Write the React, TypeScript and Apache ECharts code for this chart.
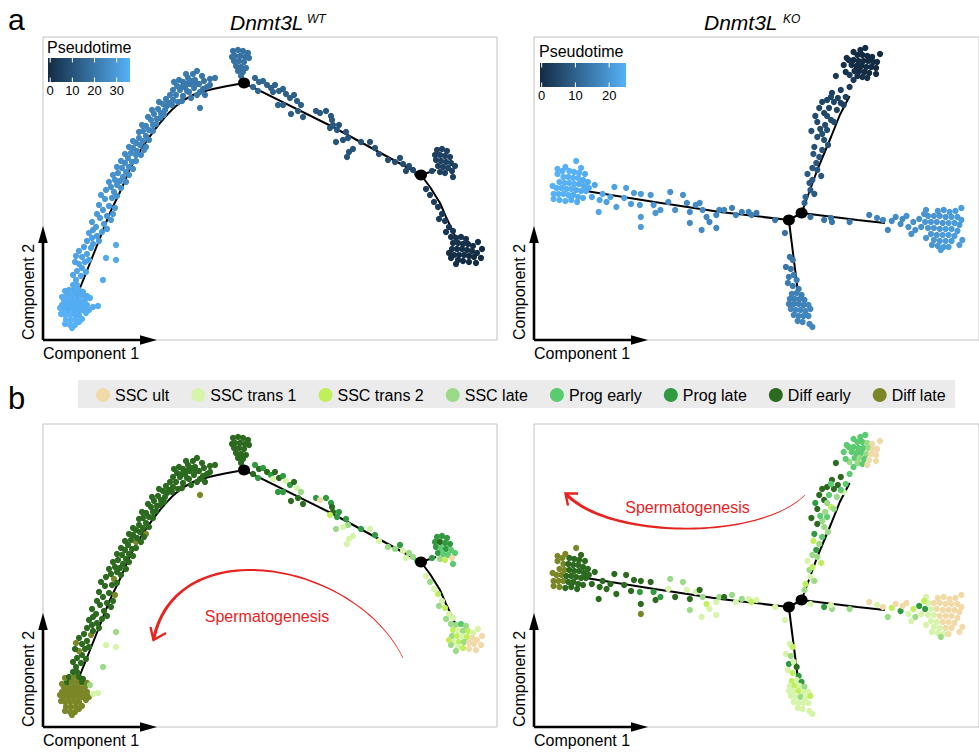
import React, { useEffect, useRef } from "react";
import * as echarts from "echarts";

// ---------- legend / colour tables ----------
const CELL_TYPES = ["SSC ult", "SSC trans 1", "SSC trans 2", "SSC late", "Prog early", "Prog late", "Diff early", "Diff late"];
const TYPE_COLORS = ["#F2DAA8", "#D6F5AA", "#C0EF5C", "#9BDA86", "#5ACB6E", "#2F9A40", "#2C6A1F", "#7B8727"];
const PSEUDO_LOW = "#132B43";
const PSEUDO_HIGH = "#56B1F7";
const WT_PSEUDO_MAX = 36;
const KO_PSEUDO_MAX = 25;
const WT_TICKS = [0, 10, 20, 30];
const KO_TICKS = [0, 10, 20];

// ---------- cells: [component 1, component 2, pseudotime, cell-type index] ----------
type Cell = [number, number, number, number];

const wtRootCluster: Cell[] = [
  [2.9, 1.2, 36, 7], [2.7, 1.5, 36, 7], [3.2, 1.5, 36, 7], [2.2, 1.6, 36, 7], [3.6, 1.8, 36, 7],
  [2.3, 2.0, 36, 7], [2.8, 2.0, 36, 7], [3.3, 2.0, 36, 7], [3.9, 2.1, 36, 7],
  [2.2, 2.5, 36, 7], [2.7, 2.5, 36, 7], [3.2, 2.5, 35, 7], [3.6, 2.5, 35, 7], [1.8, 2.6, 36, 7], [4.3, 2.7, 35, 7],
  [2.0, 3.0, 36, 7], [2.5, 3.0, 35, 7], [3.0, 3.0, 35, 7], [3.5, 3.0, 35, 7], [3.9, 3.0, 35, 7], [4.6, 3.0, 35, 7],
  [1.7, 3.2, 36, 7], [2.2, 3.3, 35, 7], [2.7, 3.3, 35, 7], [3.2, 3.3, 35, 7], [3.7, 3.3, 35, 7], [4.2, 3.3, 35, 7],
  [1.9, 3.5, 35, 7], [2.4, 3.5, 35, 7], [2.9, 3.5, 35, 7], [3.4, 3.5, 35, 7], [3.9, 3.5, 35, 7], [4.4, 3.5, 35, 7],
  [2.2, 3.8, 35, 7], [2.7, 3.8, 35, 7], [3.2, 3.8, 35, 7], [3.7, 3.8, 35, 7],
  [2.1, 4.0, 35, 7], [2.6, 4.0, 35, 7], [3.1, 4.0, 35, 7], [3.6, 4.0, 35, 7], [4.2, 4.0, 35, 7],
  [1.9, 4.3, 35, 7], [2.4, 4.5, 35, 6], [2.9, 4.5, 35, 7], [3.4, 4.5, 34, 7], [3.9, 4.5, 34, 6], [4.4, 4.4, 34, 7],
  [2.2, 4.9, 34, 7], [2.6, 5.0, 34, 6], [3.1, 5.0, 34, 7], [3.6, 5.0, 34, 6], [4.0, 4.8, 34, 6],
  [3.0, 5.5, 34, 6], [3.4, 5.5, 34, 6],
  [5.0, 3.3, 35, 1], [5.5, 3.4, 35, 1], [4.7, 4.2, 35, 3],
];

const wtStrayCells: Cell[] = [
  [6.0, 6.0, 34, 3], [6.3, 8.2, 34, 1], [7.3, 8.0, 34, 1], [7.3, 9.5, 34, 3],
];

const wtLeftArm: Cell[] = [
  [3.3, 6.0, 33, 6], [3.8, 6.4, 33, 6], [3.4, 6.9, 33, 6], [3.9, 7.2, 32, 6], [3.6, 7.6, 32, 7],
  [4.2, 7.8, 32, 6], [3.9, 8.3, 32, 6], [4.4, 8.6, 32, 6], [3.6, 8.9, 32, 6], [4.8, 9.2, 31, 7],
  [5.0, 9.6, 31, 6], [4.9, 10.2, 31, 6], [5.4, 10.4, 30, 6], [5.9, 10.8, 30, 6], [5.3, 11.3, 30, 6],
  [6.1, 11.6, 30, 6], [5.7, 12.2, 30, 6], [6.4, 12.4, 29, 6], [6.0, 13.0, 29, 6], [6.6, 13.4, 29, 6],
  [7.2, 13.2, 29, 7], [6.2, 14.1, 29, 6], [6.9, 14.2, 28, 6], [7.1, 14.8, 28, 7], [6.8, 15.3, 28, 6],
  [7.4, 15.5, 28, 6], [7.2, 16.0, 28, 6], [7.7, 15.9, 27, 6], [8.0, 16.3, 27, 6], [7.5, 16.7, 27, 6],
  [8.3, 16.8, 27, 6], [7.9, 17.2, 27, 6], [8.6, 17.3, 26, 6], [8.2, 17.7, 26, 6], [8.9, 17.8, 26, 6],
  [8.5, 18.2, 26, 6], [9.3, 18.5, 26, 7], [8.8, 18.7, 26, 6], [9.4, 18.9, 25, 6], [9.0, 19.2, 25, 6],
  [9.7, 19.5, 25, 6], [10.3, 19.3, 25, 7], [9.3, 19.7, 25, 6], [10.0, 19.9, 25, 6], [9.6, 20.2, 25, 6],
  [10.3, 20.4, 24, 6], [10.0, 20.9, 24, 6], [10.6, 21.0, 24, 6], [10.3, 21.4, 24, 6], [11.0, 21.5, 24, 6],
  [10.8, 22.0, 24, 6], [11.4, 22.1, 23, 6], [11.1, 22.6, 23, 6], [11.8, 22.7, 23, 6], [11.5, 23.1, 23, 6],
  [12.2, 23.0, 23, 6], [12.0, 23.6, 23, 6], [12.6, 23.7, 22, 6], [12.3, 24.1, 22, 6], [13.0, 24.0, 22, 6],
];

const wtLeftArmOuter: Cell[] = [
  [3.0, 6.5, 33, 6], [4.3, 6.8, 33, 6], [3.2, 7.8, 32, 6], [4.6, 8.0, 32, 6], [3.3, 8.4, 32, 7],
  [4.1, 9.3, 31, 6], [4.4, 9.9, 31, 6], [5.6, 9.9, 30, 6], [4.6, 10.7, 31, 6], [5.0, 11.0, 30, 6],
  [6.4, 11.1, 30, 6], [4.9, 11.8, 30, 6], [5.4, 12.6, 30, 6], [6.8, 12.0, 29, 6], [5.6, 13.5, 29, 6],
  [7.0, 12.6, 29, 6], [5.8, 14.5, 29, 6], [7.4, 14.4, 28, 6], [6.3, 15.0, 28, 6], [7.8, 15.2, 28, 6],
  [6.6, 15.8, 28, 6], [8.3, 15.8, 27, 6], [7.0, 16.5, 28, 6], [8.6, 16.5, 27, 6], [7.4, 17.3, 27, 6],
  [9.0, 17.1, 26, 6], [7.8, 17.9, 26, 6], [9.3, 17.9, 26, 6], [8.2, 18.6, 26, 6], [9.8, 18.5, 25, 6],
  [8.6, 19.3, 25, 6], [10.1, 19.0, 25, 6], [9.0, 19.9, 25, 6], [10.6, 20.0, 24, 6], [9.6, 20.8, 24, 6],
  [11.0, 20.9, 24, 6], [9.9, 21.5, 24, 6], [11.3, 21.6, 24, 6], [10.5, 22.3, 23, 6], [11.7, 22.2, 23, 6],
  [10.9, 23.0, 23, 6], [12.1, 22.5, 23, 6], [11.6, 23.8, 22, 6],
];

const wtUpperCluster: Cell[] = [
  [12.7, 24.5, 22, 6], [13.0, 25.0, 22, 6], [13.3, 24.5, 22, 6], [13.7, 25.0, 22, 6], [13.4, 25.4, 22, 6],
  [14.0, 24.4, 21, 6], [14.2, 25.3, 21, 6], [14.0, 25.8, 21, 6], [14.6, 24.8, 21, 6], [14.7, 25.6, 21, 6],
  [14.5, 26.2, 21, 6], [15.1, 25.2, 21, 6], [15.2, 26.0, 21, 6], [15.0, 26.6, 21, 6], [15.6, 25.6, 21, 6],
  [15.7, 24.8, 21, 6], [16.1, 25.9, 20, 6], [16.4, 25.3, 20, 6], [16.7, 26.1, 20, 6], [16.2, 24.5, 20, 6],
  [17.2, 26.2, 20, 6], [15.7, 23.2, 21, 7],
  [12.4, 23.4, 22, 6], [12.9, 23.5, 22, 6], [13.5, 23.8, 22, 6], [13.9, 23.9, 21, 6], [13.6, 26.0, 21, 6],
  [14.3, 26.6, 21, 6], [14.8, 24.2, 21, 6], [15.4, 24.5, 21, 6], [15.9, 26.4, 20, 6], [16.0, 25.1, 20, 6],
  [15.4, 26.9, 21, 6], [13.1, 25.8, 22, 6], [14.9, 25.9, 21, 6], [14.4, 25.6, 21, 6], [13.9, 25.3, 21, 6],
  [14.4, 24.9, 21, 6], [15.3, 25.6, 21, 6], [16.7, 25.5, 20, 6],
];

const wtTopCluster: Cell[] = [
  [19.0, 28.9, 19, 6], [19.5, 29.0, 19, 6], [20.0, 28.9, 19, 6], [20.5, 28.7, 19, 6], [19.2, 28.4, 19, 6],
  [19.7, 28.4, 19, 6], [20.2, 28.3, 19, 6], [19.1, 27.9, 19, 6], [19.6, 27.9, 19, 6], [20.1, 27.8, 19, 6],
  [19.3, 27.4, 19, 6], [19.8, 27.3, 19, 6], [20.3, 27.2, 19, 6], [19.5, 26.9, 19, 6], [20.0, 26.8, 19, 6],
  [19.8, 26.4, 19, 6], [20.6, 28.2, 19, 6], [18.9, 28.3, 19, 6],
];

const wtMiddleTrail: Cell[] = [
  [21.2, 26.2, 16, 5], [21.6, 25.8, 16, 6], [21.0, 25.3, 16, 6], [22.0, 25.9, 16, 5], [22.4, 25.5, 15, 6],
  [21.5, 24.9, 16, 5], [22.8, 25.2, 15, 5], [23.2, 25.5, 15, 6], [23.0, 24.8, 15, 1], [23.6, 24.9, 15, 6],
  [24.0, 25.1, 15, 5], [24.3, 24.6, 14, 1], [24.7, 24.2, 14, 5], [25.1, 24.5, 14, 6], [23.5, 23.5, 15, 5],
  [24.0, 23.5, 14, 5], [25.4, 23.9, 14, 1], [25.8, 23.5, 14, 3], [25.5, 22.9, 13, 6], [26.0, 22.3, 13, 6],
  [24.8, 22.6, 14, 6], [27.3, 22.9, 13, 5], [27.7, 22.7, 13, 0], [28.3, 22.9, 12, 5], [28.8, 22.4, 12, 5],
  [28.9, 22.0, 12, 6], [29.0, 21.5, 12, 6], [28.7, 21.2, 12, 2], [29.4, 21.0, 12, 5], [29.6, 21.5, 11, 5],
  [30.3, 20.8, 11, 5], [30.5, 20.2, 11, 3], [30.0, 20.0, 11, 1], [29.3, 19.8, 11, 3], [30.6, 18.8, 11, 1],
  [30.4, 18.3, 11, 1], [31.0, 19.1, 11, 1], [31.8, 19.8, 10, 5], [32.7, 19.8, 10, 1], [33.2, 19.2, 10, 5],
  [33.6, 18.6, 10, 1], [34.5, 18.0, 9, 3], [35.2, 17.8, 9, 3], [35.7, 18.2, 9, 5], [36.0, 17.6, 9, 1],
  [36.6, 17.4, 9, 3], [37.0, 17.0, 8, 3], [36.3, 16.9, 8, 1], [37.4, 16.6, 8, 4],
];

const wtSideCluster: Cell[] = [
  [39.4, 19.0, 6, 5], [39.9, 19.1, 6, 5], [40.4, 18.9, 6, 5], [39.2, 18.5, 6, 5], [39.7, 18.5, 6, 6],
  [40.2, 18.4, 6, 5], [40.7, 18.3, 6, 5], [39.3, 18.0, 6, 5], [39.8, 17.9, 6, 4], [40.3, 17.8, 6, 5],
  [40.8, 17.7, 6, 4], [41.2, 17.4, 6, 4], [39.5, 17.4, 6, 5], [40.0, 17.3, 6, 4], [40.5, 17.2, 6, 4],
  [39.7, 16.8, 6, 3], [40.2, 16.7, 6, 2], [40.9, 16.9, 6, 0], [41.0, 16.3, 6, 4], [38.9, 16.9, 7, 5],
];

const wtLowerBranch: Cell[] = [
  [38.3, 15.1, 5, 1], [38.7, 14.5, 5, 3], [39.1, 13.8, 5, 1], [39.5, 13.3, 4, 2], [39.9, 12.6, 4, 1],
  [39.6, 12.1, 4, 3], [40.2, 11.9, 4, 2], [40.6, 11.3, 3, 1], [40.3, 10.8, 3, 3], [41.0, 10.9, 3, 1],
];

const wtEndCluster: Cell[] = [
  [41.3, 10.2, 2, 3], [41.8, 10.3, 2, 4], [42.3, 10.1, 2, 3], [41.0, 9.7, 2, 2], [41.5, 9.7, 2, 1],
  [42.0, 9.6, 1, 3], [42.5, 9.6, 1, 2], [43.0, 9.4, 1, 1], [40.9, 9.1, 2, 3], [41.4, 9.1, 1, 2],
  [41.9, 9.1, 1, 1], [42.4, 9.0, 1, 2], [42.9, 8.9, 1, 0], [43.4, 8.7, 1, 0], [41.1, 8.5, 1, 1],
  [41.6, 8.5, 1, 2], [42.1, 8.5, 1, 3], [42.6, 8.4, 0, 0], [43.1, 8.3, 0, 0], [41.5, 8.0, 1, 1],
  [42.0, 7.9, 0, 2], [42.6, 7.8, 0, 0], [43.3, 7.7, 0, 0], [40.8, 8.2, 1, 3],
  [40.8, 10.3, 2, 3], [43.5, 9.8, 1, 1], [43.8, 8.2, 0, 0], [40.6, 8.7, 1, 2], [41.3, 7.6, 1, 3], [43.9, 9.1, 0, 0],
];

const koLeftCluster: Cell[] = [
  [4.3, 17.9, 25, 7], [3.6, 16.9, 25, 6], [4.1, 16.8, 25, 6], [4.6, 16.7, 25, 6], [3.0, 16.3, 25, 7],
  [3.5, 16.3, 25, 6], [4.0, 16.2, 25, 6], [4.5, 16.2, 25, 6], [5.0, 16.0, 24, 6], [2.6, 15.8, 25, 7],
  [3.1, 15.7, 25, 7], [3.6, 15.7, 25, 6], [4.1, 15.6, 25, 6], [4.6, 15.6, 24, 6], [5.1, 15.4, 24, 6],
  [2.3, 15.2, 25, 7], [2.8, 15.2, 25, 7], [3.3, 15.1, 25, 6], [3.8, 15.1, 25, 6], [4.3, 15.0, 24, 6],
  [4.8, 14.9, 24, 6], [5.3, 14.9, 24, 6], [2.0, 14.6, 25, 7], [2.5, 14.6, 25, 7], [3.0, 14.6, 25, 7],
  [3.5, 14.5, 25, 6], [4.0, 14.5, 24, 6], [4.5, 14.3, 24, 6], [3.8, 14.0, 24, 6], [4.4, 13.8, 24, 6],
  [2.0, 14.1, 25, 7], [2.4, 16.6, 25, 7], [2.9, 16.9, 25, 7], [5.2, 16.6, 24, 6], [5.5, 15.8, 24, 6],
  [1.9, 15.4, 25, 7], [5.6, 15.2, 24, 6], [2.6, 14.0, 25, 7], [3.2, 13.9, 25, 6], [5.0, 14.2, 24, 6],
  [2.4, 17.1, 25, 7], [3.2, 17.3, 25, 7], [4.8, 17.2, 25, 6],
];

const koLeftArm: Cell[] = [
  [6.2, 15.5, 23, 6], [5.9, 14.3, 23, 6], [6.7, 14.0, 23, 6], [6.6, 12.8, 23, 6], [7.4, 13.8, 22, 6],
  [8.2, 15.3, 22, 6], [8.4, 13.3, 22, 6], [9.2, 14.2, 22, 6], [9.4, 15.2, 22, 6], [10.2, 14.7, 21, 6],
  [10.9, 14.6, 21, 6], [10.8, 13.5, 21, 5], [10.9, 12.3, 21, 6], [10.9, 11.3, 21, 7], [11.9, 14.5, 20, 6],
  [12.2, 13.5, 20, 5], [12.4, 12.7, 20, 6], [12.9, 13.0, 20, 5], [13.9, 14.8, 19, 3], [13.7, 13.8, 19, 1],
  [14.4, 13.0, 19, 6], [15.2, 14.5, 19, 3], [15.6, 13.7, 18, 1], [15.9, 12.8, 18, 6], [15.9, 11.7, 18, 3],
  [16.5, 13.5, 18, 1], [16.9, 13.7, 18, 6], [17.2, 13.0, 18, 3], [17.1, 11.0, 18, 1], [17.6, 12.3, 17, 2],
  [17.9, 11.8, 17, 1], [18.6, 12.5, 17, 1], [18.6, 11.2, 17, 1], [18.9, 13.0, 17, 3], [19.4, 13.0, 17, 6],
  [20.2, 13.2, 16, 3], [20.6, 12.5, 16, 1], [21.2, 12.8, 16, 3], [21.9, 12.8, 16, 1], [22.2, 12.5, 16, 2],
  [22.7, 12.7, 15, 1], [24.6, 12.0, 14, 1], [7.0, 14.6, 23, 6], [7.8, 14.3, 22, 6], [9.9, 13.6, 21, 6],
];

const koRightArm: Cell[] = [
  [28.2, 12.3, 13, 1], [29.6, 12.0, 14, 5], [30.4, 11.8, 14, 3], [30.3, 12.2, 14, 1], [32.2, 11.8, 15, 3],
  [34.2, 12.5, 16, 0], [35.0, 12.2, 17, 1], [35.6, 12.0, 17, 0], [36.1, 11.0, 17, 3], [36.5, 11.9, 18, 2],
  [36.9, 12.3, 18, 0], [37.4, 11.6, 18, 5], [37.6, 12.1, 18, 0], [38.2, 11.3, 19, 1], [38.0, 12.4, 19, 0],
  [38.7, 11.8, 19, 2], [38.9, 11.0, 19, 3], [39.3, 12.1, 19, 5], [39.5, 11.3, 19, 1], [38.5, 10.6, 19, 1],
];

const koRightCluster: Cell[] = [
  [41.2, 12.9, 20, 0], [41.8, 13.0, 20, 0], [42.4, 12.8, 21, 0], [43.0, 12.9, 21, 0], [40.2, 12.4, 20, 1],
  [40.8, 12.4, 20, 0], [41.4, 12.4, 20, 0], [42.0, 12.3, 20, 0], [42.6, 12.3, 21, 0], [43.2, 12.3, 21, 0],
  [43.6, 12.0, 21, 0], [39.9, 11.8, 20, 5], [40.5, 11.8, 20, 1], [41.1, 11.8, 20, 0], [41.7, 11.7, 20, 0],
  [42.3, 11.7, 21, 0], [42.9, 11.7, 21, 0], [43.4, 11.5, 21, 0], [40.2, 11.2, 20, 1], [40.8, 11.2, 20, 1],
  [41.4, 11.1, 20, 0], [42.0, 11.1, 21, 0], [42.6, 11.1, 21, 0], [43.2, 10.9, 21, 0], [40.5, 10.6, 20, 1],
  [41.1, 10.5, 20, 1], [41.7, 10.5, 21, 0], [42.3, 10.5, 21, 0], [42.9, 10.4, 21, 0], [40.8, 10.0, 20, 1],
  [41.4, 9.9, 20, 1], [42.0, 9.9, 21, 0], [42.6, 9.9, 21, 0], [41.2, 9.4, 20, 1], [41.8, 9.3, 21, 1],
  [41.5, 9.0, 21, 3], [40.0, 13.0, 20, 1], [43.6, 13.2, 21, 0], [40.0, 10.2, 20, 1], [43.7, 10.0, 21, 0],
  [43.4, 9.5, 21, 0], [40.6, 9.5, 20, 1], [42.3, 9.3, 21, 0], [39.8, 12.6, 20, 2],
];

const koBottomArm: Cell[] = [
  [25.6, 10.7, 13, 1], [26.1, 8.3, 14, 1], [26.4, 8.0, 14, 2], [25.7, 7.3, 14, 1], [26.2, 7.1, 14, 3],
  [26.0, 6.3, 15, 5], [26.5, 6.5, 15, 1], [26.8, 6.0, 15, 6], [25.9, 5.7, 15, 1], [26.4, 5.4, 15, 2],
  [27.0, 5.1, 15, 5],
];

const koBottomCluster: Cell[] = [
  [26.3, 4.6, 16, 2], [26.8, 4.7, 16, 1], [27.3, 4.5, 16, 5], [26.1, 4.1, 16, 1], [26.6, 4.1, 16, 2],
  [27.1, 4.1, 16, 1], [27.6, 4.0, 16, 3], [26.0, 3.6, 16, 1], [26.5, 3.6, 16, 1], [27.0, 3.6, 16, 2],
  [27.5, 3.5, 16, 1], [28.0, 3.5, 17, 1], [26.2, 3.1, 17, 1], [26.7, 3.0, 17, 1], [27.2, 3.0, 17, 3],
  [27.7, 2.9, 17, 1], [28.2, 3.1, 17, 2], [26.5, 2.5, 17, 1], [27.0, 2.4, 17, 1], [27.5, 2.4, 17, 1],
  [28.0, 2.4, 17, 1], [26.9, 1.9, 17, 1], [27.4, 1.8, 17, 1], [28.1, 1.6, 17, 1], [28.4, 1.3, 17, 1],
];

const koTopArm: Cell[] = [
  [27.6, 13.7, 10, 3], [27.7, 14.3, 10, 2], [28.2, 15.0, 9, 1], [28.1, 15.7, 9, 3], [28.4, 16.0, 9, 2],
  [28.9, 17.0, 8, 3], [28.8, 17.7, 8, 5], [28.5, 18.6, 8, 2], [29.1, 18.3, 8, 3], [29.4, 19.0, 7, 4],
  [28.6, 19.3, 7, 5], [29.6, 20.0, 7, 3], [29.4, 20.6, 7, 3], [28.9, 20.3, 7, 6], [29.9, 21.0, 6, 4],
  [29.7, 21.5, 6, 3], [28.9, 21.8, 6, 6], [30.3, 22.0, 6, 2], [29.6, 22.7, 5, 6], [29.1, 23.2, 5, 6],
  [30.1, 23.2, 5, 4], [30.9, 23.0, 5, 3], [30.6, 23.8, 5, 6], [29.9, 24.0, 5, 6], [30.4, 24.7, 4, 6],
  [31.6, 23.5, 4, 1], [31.8, 24.3, 4, 4], [31.3, 25.0, 4, 6], [32.2, 25.3, 3, 4], [32.6, 26.0, 3, 4],
  [32.2, 26.5, 3, 3], [30.8, 26.4, 3, 6],
  [28.3, 20.9, 7, 6], [29.2, 21.1, 6, 4], [30.6, 21.8, 6, 3], [29.4, 23.8, 5, 6], [30.3, 24.3, 5, 4],
  [31.0, 24.2, 4, 6], [28.7, 22.4, 6, 5], [29.9, 22.4, 6, 3], [31.3, 23.7, 4, 4], [30.0, 19.5, 7, 3],
  [28.4, 17.2, 8, 3], [29.3, 16.4, 8, 2], [27.9, 16.6, 9, 1], [28.6, 14.6, 9, 3],
];

const koTopCluster: Cell[] = [
  [33.3, 29.0, 0, 4], [33.0, 28.5, 0, 4], [33.5, 28.5, 0, 4], [34.0, 28.4, 0, 3], [34.5, 28.3, 0, 0],
  [32.1, 28.0, 1, 4], [32.6, 28.0, 0, 4], [33.1, 27.9, 0, 4], [33.6, 27.9, 0, 4], [34.1, 27.9, 0, 3],
  [34.6, 27.8, 0, 0], [35.0, 27.8, 0, 0], [32.4, 27.5, 1, 4], [32.9, 27.4, 0, 4], [33.4, 27.4, 0, 4],
  [33.9, 27.3, 0, 3], [34.4, 27.3, 0, 0], [34.9, 27.2, 0, 0], [31.6, 27.5, 1, 4], [32.7, 26.9, 1, 4],
  [33.2, 26.9, 0, 3], [33.7, 26.8, 0, 4], [34.2, 26.7, 0, 0], [33.0, 26.4, 1, 3], [33.5, 26.3, 1, 4],
  [34.0, 26.2, 1, 0], [31.9, 28.2, 1, 4], [35.3, 28.6, 0, 0], [31.8, 26.8, 1, 4], [34.9, 26.6, 0, 0],
  [33.8, 29.2, 0, 4], [32.6, 28.8, 0, 4],
];

// ---------- trajectory (minimum spanning tree) ----------
const wtTrunk = [[3.7, 5.2], [4.7, 7.7], [5.7, 10.2], [6.7, 12.7], [7.7, 14.8], [9.0, 17.7], [10.3, 19.8], [11.7, 21.7], [13.3, 23.4], [15.0, 24.5], [17.0, 25.1], [20.1, 25.7]];
const wtMiddle = [[20.1, 25.7], [29.0, 21.3], [37.8, 16.5]];
const wtSideBranch = [[37.8, 16.5], [39.3, 17.0]];
const wtEndBranch = [[37.8, 16.5], [38.7, 15.3], [39.7, 13.7], [40.3, 12.3], [41.3, 10.2]];
const wtBranchPoints = [[20.1, 25.7], [37.8, 16.5]];

const koLeftEdge = [[26.0, 12.0], [19.0, 12.8], [12.3, 13.8], [5.3, 14.9]];
const koLinkEdge = [[26.0, 12.0], [27.3, 12.7]];
const koRightEdge = [[27.3, 12.7], [33.0, 12.0], [35.8, 11.7]];
const koDownEdge = [[26.0, 12.0], [26.9, 5.0]];
const koUpEdge = [[27.3, 12.7], [28.9, 17.0], [30.3, 20.3], [31.2, 22.5], [32.2, 24.4]];
const koBranchPoints = [[26.0, 12.0], [27.3, 12.7]];

const wtCells = [...wtRootCluster, ...wtStrayCells, ...wtLeftArm, ...wtLeftArmOuter, ...wtUpperCluster, ...wtTopCluster, ...wtMiddleTrail, ...wtSideCluster, ...wtLowerBranch, ...wtEndCluster];
const koCells = [...koLeftCluster, ...koLeftArm, ...koRightArm, ...koRightCluster, ...koBottomArm, ...koBottomCluster, ...koTopArm, ...koTopCluster];

// ---------- layout ----------
const FONT = '"Liberation Sans", Arial, Helvetica, sans-serif';
const RED = "#E8231F";
const PANEL_W = 454;
const PANEL_H = 303;
const X_MAX = 45.4;
const Y_MAX = 30.3;

const PANELS = [
  { left: 43, top: 37, cells: wtCells, edges: [wtTrunk, wtMiddle, wtSideBranch, wtEndBranch], nodes: wtBranchPoints },
  { left: 534, top: 37, cells: koCells, edges: [koLeftEdge, koLinkEdge, koRightEdge, koDownEdge, koUpEdge], nodes: koBranchPoints },
  { left: 43, top: 424, cells: wtCells, edges: [wtTrunk, wtMiddle, wtSideBranch, wtEndBranch], nodes: wtBranchPoints },
  { left: 534, top: 424, cells: koCells, edges: [koLeftEdge, koLinkEdge, koRightEdge, koDownEdge, koUpEdge], nodes: koBranchPoints },
];

function text(t: string, x: number, y: number, size: number, o: any = {}) {
  const align = o.align || "left";
  return {
    type: "text", x, y, rotation: o.rotation || 0, silent: true, z: 20,
    style: {
      text: t, fill: o.color || "#000",
      font: `${o.italic ? "italic " : ""}${size}px ${FONT}`,
      textAlign: align, align, textVerticalAlign: "middle", verticalAlign: "middle",
    },
  };
}

function axisArrows(left: number, bottom: number) {
  return [
    { type: "line", silent: true, z: 20, shape: { x1: left, y1: bottom, x2: left, y2: bottom - 99 }, style: { stroke: "#000", lineWidth: 2.6 } },
    { type: "polygon", silent: true, z: 20, shape: { points: [[left - 4.8, bottom - 97], [left + 4.8, bottom - 97], [left, bottom - 114]] }, style: { fill: "#000" } },
    { type: "line", silent: true, z: 20, shape: { x1: left, y1: bottom, x2: left + 99, y2: bottom }, style: { stroke: "#000", lineWidth: 2.6 } },
    { type: "polygon", silent: true, z: 20, shape: { points: [[left + 97, bottom - 4.8], [left + 97, bottom + 4.8], [left + 114, bottom]] }, style: { fill: "#000" } },
  ];
}

function colorBar(x: number, y: number, w: number, h: number, lo: number, hi: number, ticks: number[], labelY: number) {
  const els: any[] = [
    {
      type: "rect", silent: true, z: 20, shape: { x, y, width: w, height: h },
      style: { fill: { type: "linear", x: 0, y: 0, x2: 1, y2: 0, colorStops: [{ offset: 0, color: PSEUDO_LOW }, { offset: 1, color: PSEUDO_HIGH }] } },
    },
  ];
  ticks.forEach((v) => {
    const px = x + ((v - lo) / (hi - lo)) * w;
    els.push({ type: "line", silent: true, z: 21, shape: { x1: px, y1: y, x2: px, y2: y + 4.5 }, style: { stroke: "#fff", lineWidth: 1 } });
    els.push({ type: "line", silent: true, z: 21, shape: { x1: px, y1: y + h - 4.5, x2: px, y2: y + h }, style: { stroke: "#fff", lineWidth: 1 } });
    els.push(text(String(v), px, labelY, 13, { align: "center" }));
  });
  return els;
}

function taperedArc(p0: number[], p1: number[], p2: number[], p3: number[], w0: number, w1: number) {
  const n = 60;
  const a: number[][] = [];
  const b: number[][] = [];
  for (let i = 0; i <= n; i++) {
    const t = i / n;
    const u = 1 - t;
    const x = u * u * u * p0[0] + 3 * u * u * t * p1[0] + 3 * u * t * t * p2[0] + t * t * t * p3[0];
    const y = u * u * u * p0[1] + 3 * u * u * t * p1[1] + 3 * u * t * t * p2[1] + t * t * t * p3[1];
    const dx = 3 * u * u * (p1[0] - p0[0]) + 6 * u * t * (p2[0] - p1[0]) + 3 * t * t * (p3[0] - p2[0]);
    const dy = 3 * u * u * (p1[1] - p0[1]) + 6 * u * t * (p2[1] - p1[1]) + 3 * t * t * (p3[1] - p2[1]);
    const len = Math.hypot(dx, dy) || 1;
    const hw = (w0 + (w1 - w0) * t) / 2;
    a.push([x - (dy / len) * hw, y + (dx / len) * hw]);
    b.push([x + (dy / len) * hw, y - (dx / len) * hw]);
  }
  return { type: "polygon", silent: true, z: 20, shape: { points: a.concat(b.reverse()) }, style: { fill: RED } };
}

function buildOption() {
  const series: any[] = [];
  // cells (series 0..3)
  PANELS.forEach((p, i) => {
    series.push({
      type: "scatter", xAxisIndex: i, yAxisIndex: i, data: p.cells, symbolSize: 6.2,
      silent: true, z: 3, itemStyle: { opacity: 1 }, encode: { x: 0, y: 1 },
    });
  });
  // legend entries (series 4..11)
  CELL_TYPES.forEach((name, k) => {
    series.push({ type: "scatter", name, xAxisIndex: 2, yAxisIndex: 2, data: [], itemStyle: { color: TYPE_COLORS[k], opacity: 1 } });
  });
  // trajectory edges
  PANELS.forEach((p, i) => {
    p.edges.forEach((edge) => {
      series.push({
        type: "line", xAxisIndex: i, yAxisIndex: i, data: edge, symbol: "none", silent: true, z: 2,
        smooth: edge === wtTrunk ? 0.35 : false, lineStyle: { color: "#000", width: 2 },
      });
    });
  });
  // branch points
  PANELS.forEach((p, i) => {
    series.push({
      type: "scatter", xAxisIndex: i, yAxisIndex: i, data: p.nodes, symbolSize: [12, 11],
      silent: true, z: 4, itemStyle: { color: "#000", opacity: 1 },
    });
  });

  const graphics: any[] = [
    text("a", 8, 19, 30),
    text("b", 8, 398, 31),
    text("Dnmt3L", 230, 22.6, 21, { italic: true }),
    text("WT", 307, 18.5, 12, { italic: true }),
    text("Dnmt3L", 704, 22.6, 21, { italic: true }),
    text("KO", 783, 18.5, 12, { italic: true }),
    text("Pseudotime", 47, 47.5, 16),
    text("Pseudotime", 539, 51, 16),
    ...colorBar(48, 58, 82, 24, -1, WT_PSEUDO_MAX, WT_TICKS, 90),
    ...colorBar(540, 63, 86, 24, -0.5, KO_PSEUDO_MAX, KO_TICKS, 95.3),
    { type: "rect", silent: true, z: 0, shape: { x: 78, y: 380, width: 877, height: 28 }, style: { fill: "#EBEBEB" } },
  ];
  PANELS.forEach((p) => {
    const bottom = p.top + PANEL_H;
    graphics.push(...axisArrows(p.left, bottom));
    graphics.push(text("Component 1", p.left, bottom + 13.5, 16));
    graphics.push(text("Component 2", p.left - 15, bottom - 48, 16, { align: "center", rotation: Math.PI / 2 }));
  });
  // Spermatogenesis arrows
  graphics.push(taperedArc([403, 658], [355, 560], [175, 530], [153.5, 640], 0.6, 3.2));
  graphics.push({ type: "polyline", silent: true, z: 20, shape: { points: [[150.5, 627], [153.5, 640], [166, 633]] }, style: { stroke: RED, lineWidth: 2.4, fill: null } });
  graphics.push(text("Spermatogenesis", 267, 616, 16, { align: "center", color: RED }));
  graphics.push(taperedArc([805, 495], [760, 540], [610, 540], [566, 494], 0.6, 3.2));
  graphics.push({ type: "polyline", silent: true, z: 20, shape: { points: [[578, 493.5], [565.5, 493.5], [568, 505.5]] }, style: { stroke: RED, lineWidth: 2.4, fill: null } });
  graphics.push(text("Spermatogenesis", 687.5, 507.5, 16, { align: "center", color: RED }));

  return {
    animation: false,
    backgroundColor: "#fff",
    grid: PANELS.map((p) => ({
      left: p.left, top: p.top, width: PANEL_W, height: PANEL_H,
      show: true, borderColor: "#C2C2C2", borderWidth: 1, backgroundColor: "transparent",
    })),
    xAxis: PANELS.map((_, i) => ({ type: "value", gridIndex: i, min: 0, max: X_MAX, show: false })),
    yAxis: PANELS.map((_, i) => ({ type: "value", gridIndex: i, min: 0, max: Y_MAX, show: false })),
    visualMap: [
      { type: "continuous", show: false, seriesIndex: 0, dimension: 2, min: 0, max: WT_PSEUDO_MAX, inRange: { color: [PSEUDO_LOW, PSEUDO_HIGH] } },
      { type: "continuous", show: false, seriesIndex: 1, dimension: 2, min: 0, max: KO_PSEUDO_MAX, inRange: { color: [PSEUDO_LOW, PSEUDO_HIGH] } },
      { type: "piecewise", show: false, seriesIndex: [2, 3], dimension: 3, pieces: TYPE_COLORS.map((color, k) => ({ value: k, color })) },
    ],
    legend: {
      data: CELL_TYPES, left: 96, top: 387, padding: 0, itemGap: 22, itemWidth: 14, itemHeight: 14,
      icon: "circle", selectedMode: false, z: 10,
      textStyle: { fontSize: 16, fontFamily: FONT, color: "#000" },
    },
    graphic: { elements: graphics },
    series,
  };
}

export default function App() {
  const ref = useRef<HTMLDivElement | null>(null);
  useEffect(() => {
    if (!ref.current) return;
    const chart = echarts.init(ref.current, null, { renderer: "svg" });
    chart.setOption(buildOption() as any);
    return () => chart.dispose();
  }, []);
  return (
    <div
      ref={ref}
      style={{ position: "fixed", left: 0, top: 0, width: 979, height: 753, background: "#fff" }}
    />
  );
}
